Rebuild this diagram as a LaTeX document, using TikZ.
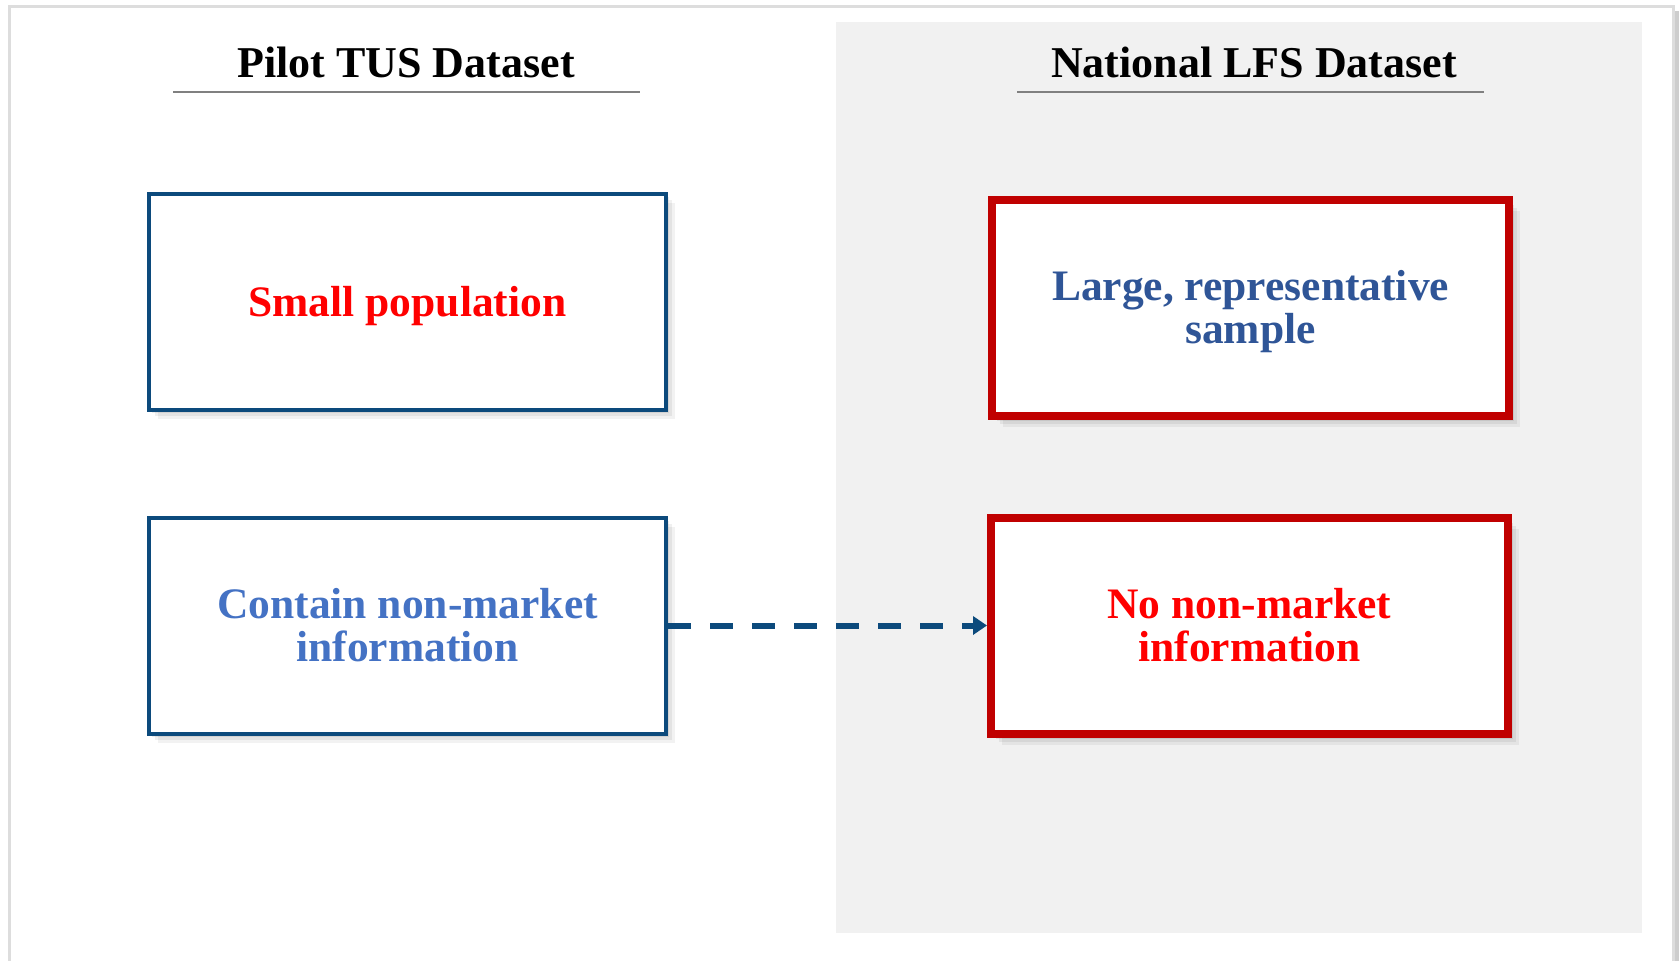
\documentclass[tikz,border=0pt]{standalone}
\usepackage{fontspec}
\setmainfont{Liberation Serif}
\usetikzlibrary{arrows.meta,shadows}
\definecolor{navy}{RGB}{12,74,124}
\definecolor{darkred}{RGB}{192,0,0}
\definecolor{brightred}{RGB}{255,0,0}
\definecolor{midblue}{RGB}{47,85,151}
\definecolor{lightblue}{RGB}{68,114,196}
\definecolor{panelgray}{RGB}{241,241,241}
\definecolor{rulegray}{RGB}{128,128,128}
\definecolor{framegray}{RGB}{221,221,221}
\definecolor{frameshadow}{RGB}{205,205,205}
\newcommand\tpstrut{\rule{0pt}{40pt}}
\newcommand\btstrut{\rule[-11.2pt]{0pt}{11.2pt}}
\begin{document}
\begin{tikzpicture}[x=1pt,y=-1pt,
  softshadow/.style={
    drop shadow={shadow xshift=#1+8pt, shadow yshift=-#1-8pt, opacity=0.05, fill=black},
    drop shadow={shadow xshift=#1+5pt, shadow yshift=-#1-5pt, opacity=0.06, fill=black},
    drop shadow={shadow xshift=#1+2pt, shadow yshift=-#1-2pt, opacity=0.07, fill=black},
    drop shadow={shadow xshift=#1, shadow yshift=-#1, opacity=0.06, fill=black}},
  boxtext/.style={font=\fontsize{43.5}{43}\selectfont\bfseries, align=center,
    fill=white, minimum width=517pt, minimum height=216pt, inner sep=0pt},
  bluebox/.style={boxtext, draw=navy, line width=4pt, softshadow=1pt},
  redbox/.style={boxtext, draw=darkred, line width=8pt, softshadow=3pt},
  header/.style={font=\fontsize{44}{44}\selectfont\bfseries, anchor=base, inner sep=0pt},
  hrule/.style={draw=rulegray, line width=2.5pt},
  link/.style={draw=navy, line width=6pt, dash pattern=on 23pt off 19pt,
    -{Triangle[length=14pt,width=18pt]}}
]
\useasboundingbox (0,0) rectangle (1679,961);
\fill[white] (0,0) rectangle (1679,961);
% outer frame
\fill[frameshadow] (1674.5,11) rectangle (1679,961);
\draw[draw=framegray, line width=3pt] (9.5,6) rectangle (1673,990);
% right panel
\fill[panelgray] (836,22) rectangle (1642,933);
% headers
\node[header] (h1) at (406,77) {Pilot TUS Dataset};
\node[header] (h2) at (1254,77) {National LFS Dataset};
\draw[hrule] (173,92) -- (640,92);
\draw[hrule] (1017,92) -- (1484,92);
% boxes
\node[bluebox, text=brightred] (tus1) at (407.5,302) {\tpstrut Small population\btstrut};
\node[bluebox, text=lightblue] (tus2) at (407.5,625.5) {\tpstrut Contain non-market\\information\btstrut};
\node[redbox, text=midblue] (lfs1) at (1250.5,307.5) {\tpstrut Large, representative\\sample\btstrut};
\node[redbox, text=brightred] (lfs2) at (1249.5,625.5) {\tpstrut No non-market\\information\btstrut};
% connector
\draw[link] (tus2.east) -- (lfs2.west);
\end{tikzpicture}
\end{document}
